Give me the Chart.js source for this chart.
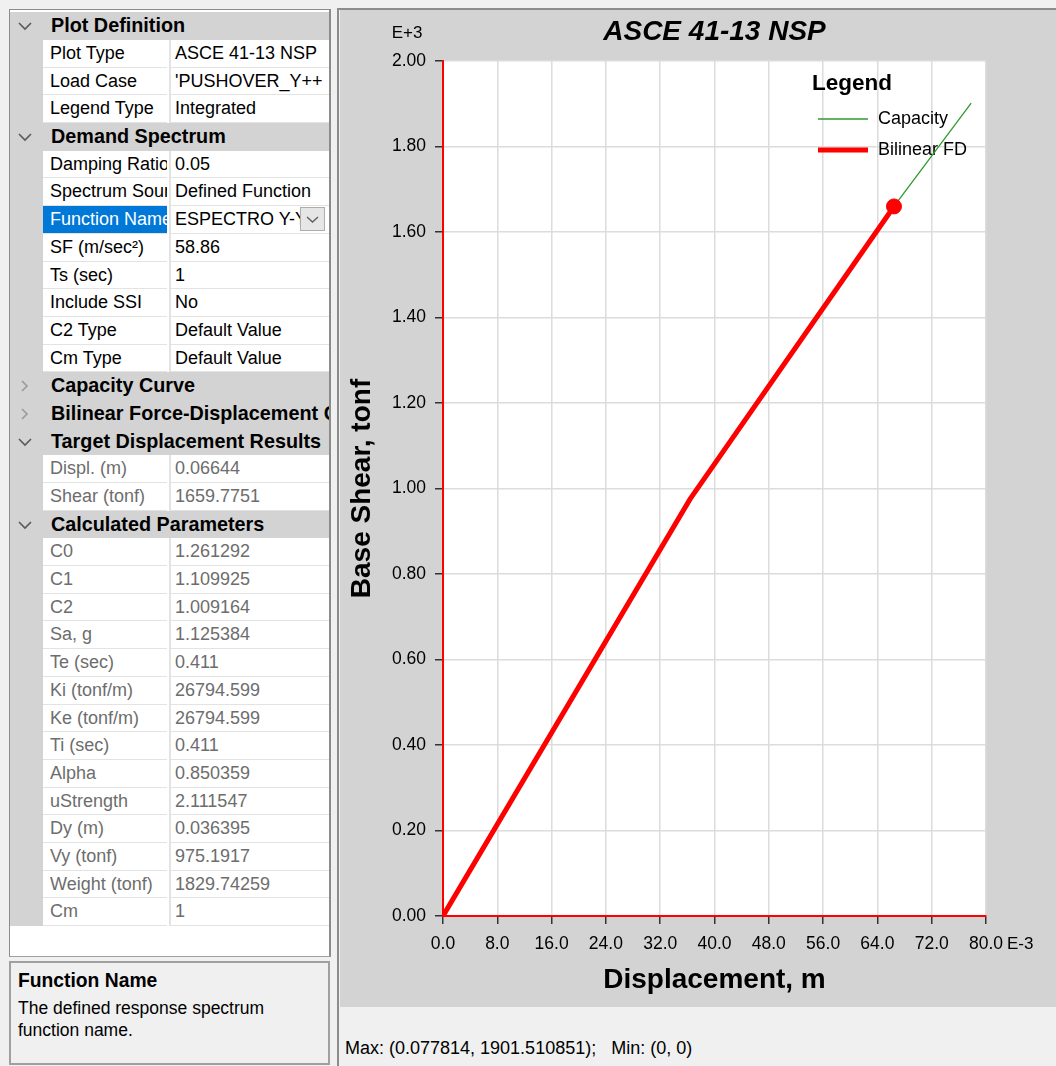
<!DOCTYPE html>
<html>
<head>
<meta charset="utf-8">
<script src="https://cdn.jsdelivr.net/npm/chart.js@4.4.1/dist/chart.umd.min.js"></script>
<style>
  html, body { margin: 0; padding: 0; }
  body {
    width: 1056px; height: 1066px; position: relative; overflow: hidden;
    background: #f0f0f0;
    font-family: "Liberation Sans", Arial, sans-serif;
  }
  #grid {
    position: absolute; left: 9px; top: 9px; width: 319px; height: 946px;
    border-left: 1px solid #8c8c8c; border-top: 1px solid #8c8c8c;
    border-right: 2px solid #8c8c8c; border-bottom: 1px solid #a0a0a0;
    background: #fff; overflow: hidden;
  }
  .row { position: absolute; left: 0; width: 319px; height: 27.69px; }
  .cat { background: #d3d3d3; }
  .cat .label {
    position: absolute; left: 41px; top: 0; line-height: 27.69px;
    font-size: 19.8px; font-weight: bold; color: #000; white-space: nowrap;
  }
  .chev { position: absolute; left: 8px; top: 8px; }
  .gutter { position: absolute; left: 0; top: 0; width: 33px; height: 100%; background: #d3d3d3; }
  .cell {
    position: absolute; top: 0; height: 26.69px; line-height: 26.69px;
    background: #fff; border-bottom: 1px solid #e3e3e3;
    font-size: 18px; color: #000; white-space: nowrap; overflow: hidden;
  }
  .name { left: 33px; width: 117px; padding-left: 7px; }
  .value { left: 159px; width: 155px; padding-left: 4px; border-left: 2px solid #e3e3e3; }
  .ro { color: #6d6d6d; }
  .sel { background: #0078d7; color: #fff; }
  .drop {
    position: absolute; left: 290px; top: 1px; width: 25px; height: 24px;
    background: #e6e6e6; border: 1px solid #adadad; box-sizing: border-box;
  }
  #help {
    position: absolute; left: 9px; top: 961px; width: 317px; height: 100px;
    border: 2px solid #a0a0a0; background: #f0f0f0;
  }
  #help .ht { position: absolute; left: 7px; top: 7px; font-size: 19.3px; font-weight: bold; color: #000; }
  #help .hd { position: absolute; left: 7px; top: 34px; font-size: 17.5px; line-height: 22px; color: #000; width: 300px; }
  #plotPanel {
    position: absolute; left: 337px; top: 8px; width: 719px; height: 1058px;
    border-left: 2px solid #8c8c8c; border-top: 2px solid #8c8c8c; background: #f0f0f0;
  }
  #chartBox { position: absolute; left: 1px; top: 0; width: 716px; height: 997px; background: #d3d3d3; }
  #status {
    position: absolute; left: 6px; top: 1028px; font-size: 18px; color: #000; white-space: pre;
  }
</style>
</head>
<body>
<div id="grid"></div>
<div id="help">
  <div class="ht">Function Name</div>
  <div class="hd">The defined response spectrum function name.</div>
</div>
<div id="plotPanel">
  <div id="chartBox"><canvas id="nsp" width="716" height="997"></canvas></div>
  <div id="status"></div>
</div>

<script>
// ---- Pushover results (displacement in m, base shear in tonf) ----
const capacityDispl = [0, 0.0125, 0.025, 0.0364, 0.045, 0.055, 0.06644, 0.0722, 0.077814];
const capacityShear = [0, 335, 670, 970, 1175, 1405, 1659.8, 1782, 1901.510851];

const bilinearDispl = [0, 0.036395, 0.06644];
const bilinearShear = [0, 975.1917, 1659.7751];

const targetDispl = [0.06644];
const targetShear = [1659.7751];

// Tick labels: displacement in E-3 m, shear in E+3 tonf
const xTickValues = [0, 8, 16, 24, 32, 40, 48, 56, 64, 72, 80];
const yTickValues = [0, 0.2, 0.4, 0.6, 0.8, 1.0, 1.2, 1.4, 1.6, 1.8, 2.0];

const seriesNames = ['Capacity', 'Bilinear FD'];

// ---- Property grid content ----
const gridRows = [
  ['cat', 'Plot Definition', true],
  ['prop', 'Plot Type', 'ASCE 41-13 NSP'],
  ['prop', 'Load Case', "'PUSHOVER_Y++"],
  ['prop', 'Legend Type', 'Integrated'],
  ['cat', 'Demand Spectrum', true],
  ['prop', 'Damping Ratio', '0.05'],
  ['prop', 'Spectrum Source', 'Defined Function'],
  ['sel', 'Function Name', 'ESPECTRO Y-Y'],
  ['prop', 'SF (m/sec\u00B2)', '58.86'],
  ['prop', 'Ts (sec)', '1'],
  ['prop', 'Include SSI', 'No'],
  ['prop', 'C2 Type', 'Default Value'],
  ['prop', 'Cm Type', 'Default Value'],
  ['cat', 'Capacity Curve', false],
  ['cat', 'Bilinear Force-Displacement Curve', false],
  ['cat', 'Target Displacement Results', true],
  ['ro', 'Displ. (m)', '0.06644'],
  ['ro', 'Shear (tonf)', '1659.7751'],
  ['cat', 'Calculated Parameters', true],
  ['ro', 'C0', '1.261292'],
  ['ro', 'C1', '1.109925'],
  ['ro', 'C2', '1.009164'],
  ['ro', 'Sa, g', '1.125384'],
  ['ro', 'Te (sec)', '0.411'],
  ['ro', 'Ki (tonf/m)', '26794.599'],
  ['ro', 'Ke (tonf/m)', '26794.599'],
  ['ro', 'Ti (sec)', '0.411'],
  ['ro', 'Alpha', '0.850359'],
  ['ro', 'uStrength', '2.111547'],
  ['ro', 'Dy (m)', '0.036395'],
  ['ro', 'Vy (tonf)', '975.1917'],
  ['ro', 'Weight (tonf)', '1829.74259'],
  ['ro', 'Cm', '1']
];

(function buildGrid() {
  const grid = document.getElementById('grid');
  const pitch = 27.69;
  gridRows.forEach((r, i) => {
    const row = document.createElement('div');
    row.className = 'row';
    row.style.top = (2.3 + i * pitch) + 'px';
    if (r[0] === 'cat') {
      row.classList.add('cat');
      const open = r[2];
      const col = open ? '#5a5a5a' : '#9a9a9a';
      const path = open ? 'M1 3 L7 9 L13 3' : 'M4 1 L9 6 L4 11';
      row.innerHTML =
        '<svg class="chev" width="14" height="12"><path d="' + path +
        '" fill="none" stroke="' + col + '" stroke-width="1.6"/></svg>' +
        '<div class="label"></div>';
      row.querySelector('.label').textContent = r[1];
    } else {
      row.innerHTML = '<div class="gutter"></div><div class="cell name"></div><div class="cell value"></div>';
      const n = row.querySelector('.name');
      const v = row.querySelector('.value');
      n.textContent = r[1];
      v.textContent = r[2];
      if (r[0] === 'ro') { n.classList.add('ro'); v.classList.add('ro'); }
      if (r[0] === 'sel') {
        n.classList.add('sel');
        const d = document.createElement('div');
        d.className = 'drop';
        d.innerHTML = '<svg width="23" height="22"><path d="M6 9 L11.5 14 L17 9" fill="none" stroke="#606060" stroke-width="1.4"/></svg>';
        row.appendChild(d);
      }
    }
    grid.appendChild(row);
  });
})();

// ---- Status line with curve extents ----
document.getElementById('status').textContent =
  'Max: (' + Math.max(...capacityDispl) + ', ' + Math.max(...capacityShear) + ');   ' +
  'Min: (' + Math.min(...capacityDispl) + ', ' + Math.min(...capacityShear) + ')';

// ---- Chart ----
const FONT = "'Liberation Sans', Arial, sans-serif";
Chart.defaults.font.family = FONT;
Chart.defaults.color = '#000';

const toXY = (xs, ys) => xs.map((x, i) => ({ x: x, y: ys[i] }));

const plotBackground = {
  id: 'plotBackground',
  beforeDraw(chart) {
    const { ctx, chartArea: a } = chart;
    ctx.save();
    ctx.fillStyle = '#ffffff';
    ctx.fillRect(a.left, a.top, a.right - a.left, a.bottom - a.top);
    ctx.restore();
  }
};

// Exponent markers shown beside the axes
const axisExponents = {
  id: 'axisExponents',
  afterDraw(chart) {
    const { ctx, scales } = chart;
    ctx.save();
    ctx.font = '17px ' + FONT;
    ctx.fillStyle = '#000';
    ctx.textBaseline = 'middle';
    ctx.textAlign = 'center';
    ctx.fillText('E+3', scales.y.right - 36, 23);
    ctx.textAlign = 'left';
    ctx.fillText('E-3', scales.x.getPixelForValue(0.08) + 21, scales.x.top + 28);
    ctx.restore();
  }
};

// Legend drawn without a box in the upper right of the plot
const sideLegend = {
  id: 'sideLegend',
  beforeDatasetsDraw(chart) {
    const { ctx, chartArea: a } = chart;
    const x0 = a.right - 174, y0 = a.top + 23;
    ctx.save();
    ctx.fillStyle = '#000';
    ctx.textBaseline = 'middle';
    ctx.textAlign = 'left';
    ctx.font = 'bold 22.5px ' + FONT;
    ctx.fillText('Legend', x0, y0);
    ctx.font = '18px ' + FONT;
    [0, 1].forEach((k) => {
      const ds = chart.data.datasets[k];
      const y = y0 + 35 + k * 31;
      ctx.strokeStyle = ds.borderColor;
      ctx.lineWidth = k === 0 ? 1.3 : 5;
      ctx.beginPath();
      ctx.moveTo(x0 + 6, y);
      ctx.lineTo(x0 + 56, y);
      ctx.stroke();
      ctx.fillText(ds.label, x0 + 66, y);
    });
    ctx.restore();
  }
};

new Chart(document.getElementById('nsp'), {
  type: 'scatter',
  data: {
    datasets: [
      {
        label: seriesNames[0],
        data: toXY(capacityDispl, capacityShear),
        showLine: true,
        borderColor: '#2f9a2f',
        borderWidth: 1.3,
        pointRadius: 0,
        order: 3
      },
      {
        label: seriesNames[1],
        data: toXY(bilinearDispl, bilinearShear),
        showLine: true,
        borderColor: '#ff0000',
        borderWidth: 5,
        pointRadius: 0,
        order: 2
      },
      {
        label: 'Target',
        data: toXY(targetDispl, targetShear),
        showLine: false,
        pointRadius: 7.5,
        pointBackgroundColor: '#ff0000',
        pointBorderColor: '#ff0000',
        order: 1
      }
    ]
  },
  options: {
    responsive: false,
    animation: false,
    devicePixelRatio: 1,
    layout: { padding: { left: 0, right: 70, top: 0, bottom: 0 } },
    plugins: {
      legend: { display: false },
      tooltip: { enabled: false },
      title: {
        display: true,
        fullSize: false,
        text: 'ASCE 41-13 NSP',
        color: '#000',
        font: { size: 28, weight: 'bold', style: 'italic' },
        padding: { top: 5.2, bottom: 12.2 }
      }
    },
    scales: {
      x: {
        type: 'linear',
        min: 0,
        max: 0.08,
        afterBuildTicks(scale) { scale.ticks = xTickValues.map(v => ({ value: v / 1000 })); },
        afterFit(scale) { scale.height = 91; },
        ticks: {
          font: { size: 17.5 },
          color: '#000',
          padding: 9.5,
          maxRotation: 0,
          callback: (v) => (v * 1000).toFixed(1)
        },
        grid: { color: '#dcdcdc', lineWidth: 1.5, tickColor: '#333', tickLength: 8, tickWidth: 1.5 },
        border: { color: '#ff0000', width: 2 },
        title: {
          display: true,
          text: 'Displacement, m',
          color: '#000',
          font: { size: 28, weight: 'bold' },
          padding: { top: 0, bottom: 10.2 }
        }
      },
      y: {
        type: 'linear',
        min: 0,
        max: 2000,
        afterBuildTicks(scale) { scale.ticks = yTickValues.map(v => ({ value: v * 1000 })); },
        afterFit(scale) { scale.width = 103; },
        ticks: {
          font: { size: 17.5 },
          color: '#000',
          padding: 9,
          callback: (v) => (v / 1000).toFixed(2)
        },
        grid: { color: '#dcdcdc', lineWidth: 1.5, tickColor: '#333', tickLength: 8, tickWidth: 1.5 },
        border: { color: '#ff0000', width: 2 },
        title: {
          display: true,
          text: 'Base Shear, tonf',
          color: '#000',
          font: { size: 28, weight: 'bold' },
          padding: { top: 5.2, bottom: 0 }
        }
      }
    }
  },
  plugins: [plotBackground, axisExponents, sideLegend]
});
</script>
</body>
</html>
